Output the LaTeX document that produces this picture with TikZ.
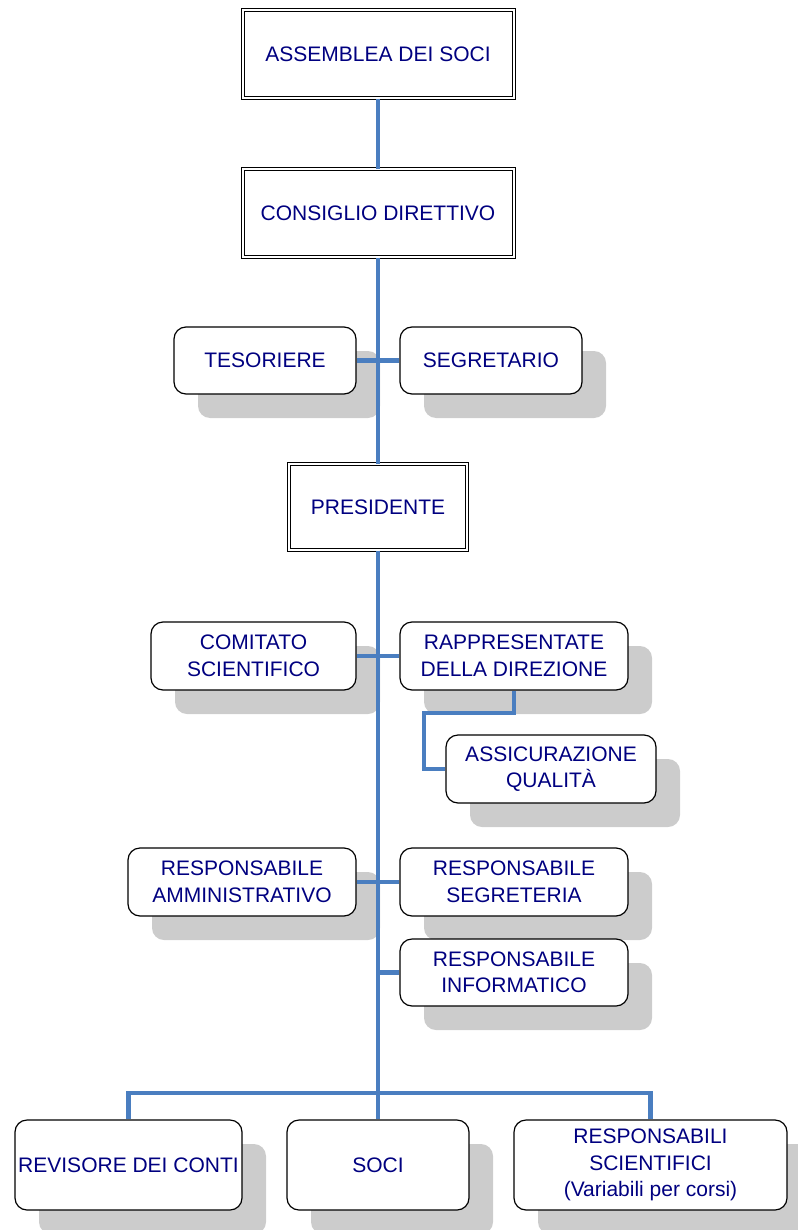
\documentclass[tikz,border=0pt]{standalone}
\usepackage{fontspec}
\setmainfont{Liberation Sans}
\usetikzlibrary{shadows}
\definecolor{linea}{RGB}{74,126,192}
\definecolor{testo}{RGB}{0,0,128}
\begin{document}
\begin{tikzpicture}[x=1pt,y=-1pt,
        every node/.append style = {text=testo, align=center,
            font=\fontsize{21}{26.5}\selectfont},
        doppio/.style = {draw=black, line width=1pt, double=white,
            double distance=2pt, fill=white, inner sep=0pt},
        ombra/.style = {draw=black, line width=1.2pt, fill=white,
            rounded corners=12pt, inner sep=0pt,
            drop shadow={shadow xshift=24pt, shadow yshift=-24pt,
                fill=black!20, opacity=1}},
        ramo/.style = {draw=linea, line width=4.5pt}]
    \useasboundingbox (0,0) rectangle (797,1230);
    % vertici
    \node[doppio, minimum width=271pt, minimum height=88pt] (assemblea) at (378,54.5) {ASSEMBLEA DEI SOCI};
    \node[doppio, minimum width=271pt, minimum height=88pt] (consiglio) at (378,213.5) {CONSIGLIO DIRETTIVO};
    \node[ombra, minimum width=182pt, minimum height=67pt] (tesoriere) at (265,360.5) {TESORIERE};
    \node[ombra, minimum width=182pt, minimum height=67pt] (segretario) at (491,360.5) {SEGRETARIO};
    \node[doppio, minimum width=178pt, minimum height=86pt] (presidente) at (378,507) {PRESIDENTE};
    % staff
    \node[ombra, minimum width=205pt, minimum height=68pt] (comitato) at (253.5,656) {COMITATO\\SCIENTIFICO};
    \node[ombra, minimum width=228pt, minimum height=68pt] (rappresentante) at (514,656) {RAPPRESENTATE\\DELLA DIREZIONE};
    \node[ombra, minimum width=210pt, minimum height=68pt] (qualita) at (551,769) {ASSICURAZIONE\\QUALITÀ};
    \node[ombra, minimum width=228pt, minimum height=68pt] (amministrativo) at (242,882) {RESPONSABILE\\AMMINISTRATIVO};
    \node[ombra, minimum width=228pt, minimum height=68pt] (segreteria) at (514,882) {RESPONSABILE\\SEGRETERIA};
    \node[ombra, minimum width=228pt, minimum height=67pt] (informatico) at (514,972.5) {RESPONSABILE\\INFORMATICO};
    % base
    \node[ombra, minimum width=227pt, minimum height=90pt] (revisore) at (128.5,1165) {REVISORE DEI CONTI};
    \node[ombra, minimum width=182pt, minimum height=90pt] (soci) at (378,1165) {SOCI};
    \node[ombra, minimum width=273pt, minimum height=90pt] (scientifici) at (650.5,1165) {RESPONSABILI\\SCIENTIFICI\\(Variabili per corsi)};
    % punti liberi
    \coordinate (gomito) at (424,713);
    \coordinate (nodoinfo) at (378,972.5);
    \coordinate (bus) at (378,1093);
    \begin{scope}[style = ramo]
        \draw (assemblea.south) -- (consiglio.north);
        \draw (consiglio.south) -- (presidente.north);
        \draw (presidente.south) -- (soci.north);
        \draw (tesoriere.east) -- (segretario.west);
        \draw (comitato.east) -- (rappresentante.west);
        \draw (rappresentante.south) |- (gomito) |- (qualita.west);
        \draw (amministrativo.east) -- (segreteria.west);
        \draw (nodoinfo) -- (informatico.west);
        \draw (revisore.north) |- (bus) -| (scientifici.north);
    \end{scope}
\end{tikzpicture}
\end{document}
